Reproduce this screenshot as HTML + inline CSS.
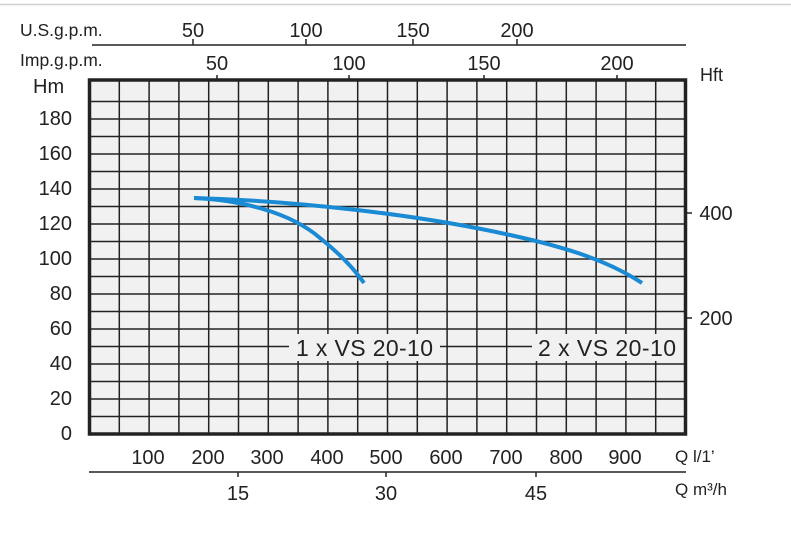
<!DOCTYPE html>
<html><head><meta charset="utf-8"><style>
html,body{margin:0;padding:0;background:#fff;}
svg{display:block;font-family:"Liberation Sans",sans-serif;}
</style></head><body>
<svg width="791" height="541" viewBox="0 0 791 541" xmlns="http://www.w3.org/2000/svg">
<line x1="0" y1="4.5" x2="791" y2="4.5" stroke="#d0d0d0" stroke-width="1.5"/>
<g fill="#222" font-size="20">
<text x="20" y="36" font-size="17.5">U.S.g.p.m.</text>
<text x="20" y="66" font-size="17.5">Imp.g.p.m.</text>
<text x="193" y="37" text-anchor="middle">50</text>
<text x="306" y="37" text-anchor="middle">100</text>
<text x="413" y="37" text-anchor="middle">150</text>
<text x="517" y="37" text-anchor="middle">200</text>
<text x="217" y="70" text-anchor="middle">50</text>
<text x="349" y="70" text-anchor="middle">100</text>
<text x="484" y="70" text-anchor="middle">150</text>
<text x="617" y="70" text-anchor="middle">200</text>
<text x="33" y="93">Hm</text>
<text x="700" y="81" font-size="18">Hft</text>
</g>
<g stroke="#222" stroke-width="1.5">
<line x1="92" y1="45" x2="686" y2="45"/>
<line x1="193" y1="45" x2="193" y2="39"/><line x1="306" y1="45" x2="306" y2="39"/>
<line x1="413" y1="45" x2="413" y2="39"/><line x1="517" y1="45" x2="517" y2="39"/>
<line x1="217" y1="80" x2="217" y2="75"/><line x1="349" y1="80" x2="349" y2="75"/>
<line x1="484" y1="80" x2="484" y2="75"/><line x1="617" y1="80" x2="617" y2="75"/>
<line x1="686" y1="213" x2="692" y2="213"/><line x1="686" y1="318" x2="692" y2="318"/>
<line x1="89" y1="472" x2="686" y2="472"/>
<line x1="238" y1="472" x2="238" y2="477"/><line x1="386" y1="472" x2="386" y2="477"/><line x1="536" y1="472" x2="536" y2="477"/>
</g>
<rect x="89.5" y="80" width="596" height="354" fill="#f1f1f1"/>
<g stroke="#222" stroke-width="1.5">
<path d="M119.3 80V434M149.1 80V434M178.9 80V434M208.7 80V434M238.5 80V434M268.3 80V434M298.1 80V434M327.9 80V434M357.7 80V434M387.5 80V434M417.3 80V434M447.1 80V434M476.9 80V434M506.7 80V434M536.5 80V434M566.3 80V434M596.1 80V434M625.9 80V434M655.7 80V434"/>
<path d="M89 416.5H686M89 399H686M89 381.5H686M89 364H686M89 346.5H686M89 329H686M89 311.5H686M89 294H686M89 276.5H686M89 259H686M89 241.5H686M89 224H686M89 206.5H686M89 189H686M89 171.5H686M89 154H686M89 136.5H686M89 119H686M89 101.5H686"/>
</g>
<rect x="289" y="334" width="151" height="27" fill="#f1f1f1"/>
<rect x="532" y="334" width="152" height="27" fill="#f1f1f1"/>
<g fill="#222" font-size="23">
<text x="296" y="356" textLength="137">1 x VS 20-10</text>
<text x="538" y="356" textLength="138">2 x VS 20-10</text>
</g>
<g fill="none" stroke="#1a8ad4" stroke-width="4" stroke-linecap="butt">
<path d="M194 198 C240 200 290 212 320 238 C340 254 355 270 364 283"/>
<path d="M194 198 C300 201 420 215 510 235 C570 248 610 262 642 283"/>
</g>
<rect x="89.5" y="80" width="596" height="354" fill="none" stroke="#222" stroke-width="3.5"/>
<g fill="#222" font-size="20">
<text x="72" y="125" text-anchor="end">180</text>
<text x="72" y="160" text-anchor="end">160</text>
<text x="72" y="195" text-anchor="end">140</text>
<text x="72" y="230" text-anchor="end">120</text>
<text x="72" y="265" text-anchor="end">100</text>
<text x="72" y="300" text-anchor="end">80</text>
<text x="72" y="335" text-anchor="end">60</text>
<text x="72" y="370" text-anchor="end">40</text>
<text x="72" y="405" text-anchor="end">20</text>
<text x="72" y="440" text-anchor="end">0</text>
<text x="716" y="220" text-anchor="middle">400</text>
<text x="716" y="325" text-anchor="middle">200</text>
<text x="148" y="464" text-anchor="middle">100</text>
<text x="208" y="464" text-anchor="middle">200</text>
<text x="267" y="464" text-anchor="middle">300</text>
<text x="327" y="464" text-anchor="middle">400</text>
<text x="386" y="464" text-anchor="middle">500</text>
<text x="446" y="464" text-anchor="middle">600</text>
<text x="506" y="464" text-anchor="middle">700</text>
<text x="566" y="464" text-anchor="middle">800</text>
<text x="625" y="464" text-anchor="middle">900</text>
<text x="238" y="500" text-anchor="middle">15</text>
<text x="386" y="500" text-anchor="middle">30</text>
<text x="536" y="500" text-anchor="middle">45</text>
<text x="675" y="462" font-size="17">Q l/1’</text>
<text x="675" y="495" font-size="17">Q m³/h</text>
</g>
</svg>
</body></html>
